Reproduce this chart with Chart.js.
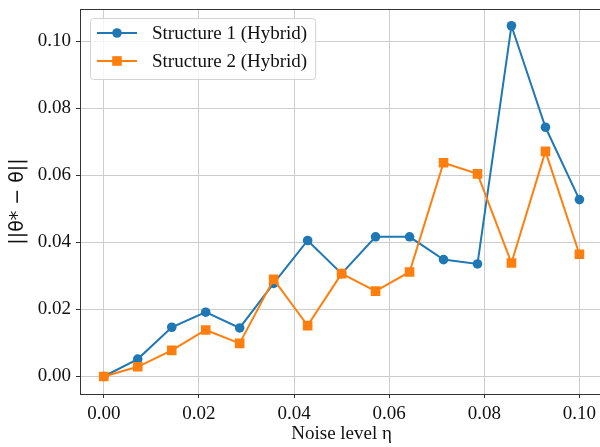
<!DOCTYPE html>
<html>
<head>
<meta charset="utf-8">
<script src="https://cdn.jsdelivr.net/npm/chart.js@4.4.0/dist/chart.umd.min.js"></script>
<style>
  html, body { margin: 0; padding: 0; background: #fff; overflow: hidden; }
  #wrap { width: 600px; height: 447px; overflow: hidden; }
</style>
</head>
<body>
<div id="wrap"><canvas id="chart" width="610" height="447"></canvas></div>
<script>
// noise levels on the x axis
const noise = [0, 0.00714, 0.01429, 0.02143, 0.02857, 0.03571, 0.04286, 0.05,
               0.05714, 0.06429, 0.07143, 0.07857, 0.08571, 0.09286, 0.1];
const struct1 = [0, 0.0052, 0.0147, 0.0192, 0.0145, 0.0278, 0.0406, 0.0307,
                 0.0417, 0.0417, 0.0349, 0.0336, 0.1047, 0.0744, 0.0528];
const struct2 = [0, 0.0029, 0.0078, 0.0139, 0.0099, 0.0290, 0.0152, 0.0307,
                 0.0255, 0.0312, 0.0638, 0.0605, 0.0339, 0.0672, 0.0365];
const labels = ["Structure 1 (Hybrid)", "Structure 2 (Hybrid)"];
const xTicks = [0, 0.02, 0.04, 0.06, 0.08, 0.1];
const yTicks = [0, 0.02, 0.04, 0.06, 0.08, 0.1];

const blue = "#1f77b4";
const orange = "#ff7f0e";
const serif = "'Liberation Serif', 'Times New Roman', serif";

const toPoints = ys => ys.map((y, i) => ({ x: noise[i], y: y }));

// box around the plot + legend in the upper left corner
const framePlugin = {
  id: "frame",
  afterDatasetsDraw(chart) {
    const { ctx, chartArea } = chart;
    ctx.save();
    ctx.strokeStyle = "#333";
    ctx.lineWidth = 1;
    ctx.strokeRect(chartArea.left + 0.5, chartArea.top + 0.5,
                   chartArea.right - chartArea.left, chartArea.bottom - chartArea.top);

    // legend
    ctx.font = "19px " + serif;
    const textX = 152;
    let w = 0;
    chart.data.datasets.forEach(ds => { w = Math.max(w, ctx.measureText(ds.label).width); });
    const bx = 90, by = 18, bw = textX + w + 8 - bx, bh = 61;
    ctx.beginPath();
    ctx.roundRect(bx + 0.5, by + 0.5, bw, bh, 3);
    ctx.fillStyle = "rgba(255,255,255,0.8)";
    ctx.fill();
    ctx.strokeStyle = "#d3d3d3";
    ctx.stroke();

    chart.data.datasets.forEach((ds, i) => {
      const y = 33 + i * 28;
      ctx.strokeStyle = ds.borderColor;
      ctx.lineWidth = 2;
      ctx.beginPath();
      ctx.moveTo(97, y);
      ctx.lineTo(137, y);
      ctx.stroke();
      ctx.fillStyle = ds.borderColor;
      if (ds.pointStyle === "circle") {
        ctx.beginPath();
        ctx.arc(117, y, 4.8, 0, Math.PI * 2);
        ctx.fill();
      } else {
        ctx.fillRect(117 - 4.8, y - 4.8, 9.6, 9.6);
      }
      ctx.fillStyle = "#111";
      ctx.textBaseline = "middle";
      ctx.textAlign = "left";
      ctx.fillText(ds.label, textX, y + 1);
    });
    ctx.restore();
  }
};

const ctx = document.getElementById("chart").getContext("2d");
const chart = new Chart(ctx, {
  type: "line",
  data: {
    datasets: [{
      label: labels[0],
      data: toPoints(struct1),
      borderColor: blue,
      backgroundColor: blue,
      borderWidth: 2,
      pointStyle: "circle",
      pointRadius: 4.8,
      pointBorderWidth: 0,
      order: 1
    }, {
      label: labels[1],
      data: toPoints(struct2),
      borderColor: orange,
      backgroundColor: orange,
      borderWidth: 2,
      pointStyle: "rect",
      pointRadius: 6.8,
      pointBorderWidth: 0,
      order: 0
    }]
  },
  options: {
    responsive: false,
    animation: false,
    devicePixelRatio: 1,
    layout: { padding: { top: 9, right: 6, left: 0, bottom: 0 } },
    plugins: {
      legend: { display: false },
      tooltip: { enabled: false }
    },
    scales: {
      x: {
        type: "linear",
        min: -0.005,
        max: 0.105,
        afterFit: s => { s.height = 53; s.paddingLeft = 0; s.paddingRight = 0; },
        afterBuildTicks: s => { s.ticks = xTicks.map(v => ({ value: v })); },
        grid: { color: "#cdcdcd", lineWidth: 1, tickLength: 4, tickColor: "#333" },
        border: { color: "#333", width: 1 },
        ticks: {
          padding: 5,
          color: "#111",
          font: { family: serif, size: 19 },
          callback: v => v.toFixed(2)
        },
        title: {
          display: true,
          text: "Noise level η",
          color: "#111",
          font: { family: serif, size: 19 },
          padding: { top: 0, bottom: 2 }
        }
      },
      y: {
        min: -0.00522,
        max: 0.1097,
        afterFit: s => { s.width = 80; s.paddingTop = 0; s.paddingBottom = 0; },
        afterBuildTicks: s => { s.ticks = yTicks.map(v => ({ value: v })); },
        grid: { color: "#cdcdcd", lineWidth: 1, tickLength: 4, tickColor: "#333" },
        border: { color: "#333", width: 1 },
        ticks: {
          padding: 5,
          color: "#111",
          font: { family: serif, size: 19 },
          callback: v => v.toFixed(2)
        },
        title: {
          display: true,
          text: "||θ* − θ||",
          color: "#111",
          font: { family: "'DejaVu Sans', sans-serif", size: 19 },
          padding: { top: 7, bottom: 0 }
        }
      }
    }
  },
  plugins: [framePlugin]
});
</script>
</body>
</html>
